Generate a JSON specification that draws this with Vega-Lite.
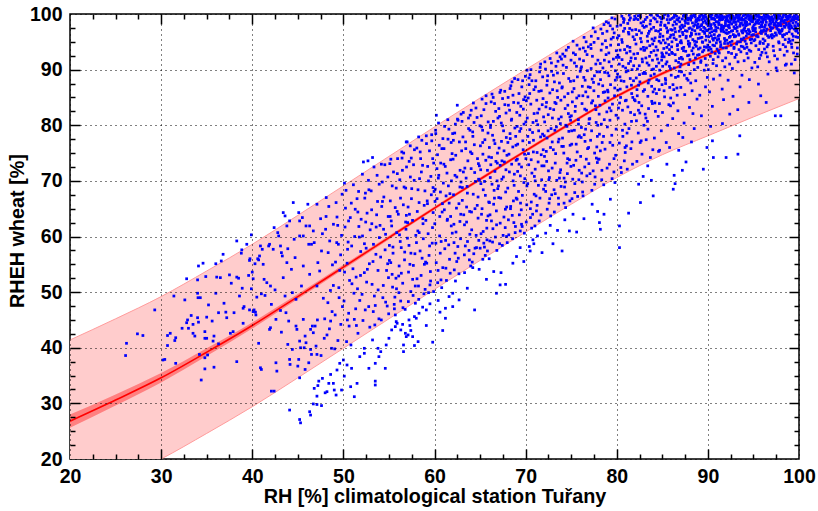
{
"$schema":"https://vega.github.io/schema/vega-lite/v6.json",
"width":729,"height":445,
"autosize":"none",
"padding":{"left":70,"top":14,"right":19,"bottom":52},
"background":"#ffffff",
"config":{"view":{"stroke":"#000000","strokeWidth":1.5},"font":"Liberation Sans"},
"datasets":{
"fit":[
{"x":20,"fit":26.8,"ciLo":25.6,"ciHi":28.0,"piLo":12.2,"piHi":41.4},
{"x":25,"fit":30.6,"ciLo":29.6,"ciHi":31.6,"piLo":16.0,"piHi":45.2},
{"x":30,"fit":34.6,"ciLo":33.75,"ciHi":35.45,"piLo":20.0,"piHi":49.2},
{"x":35,"fit":39.2,"ciLo":38.5,"ciHi":39.9,"piLo":24.6,"piHi":53.8},
{"x":40,"fit":44.0,"ciLo":43.45,"ciHi":44.55,"piLo":29.4,"piHi":58.6},
{"x":45,"fit":49.2,"ciLo":48.75,"ciHi":49.65,"piLo":34.6,"piHi":63.8},
{"x":50,"fit":54.5,"ciLo":54.1,"ciHi":54.9,"piLo":39.9,"piHi":69.1},
{"x":55,"fit":59.8,"ciLo":59.45,"ciHi":60.15,"piLo":45.2,"piHi":74.4},
{"x":60,"fit":65.1,"ciLo":64.8,"ciHi":65.4,"piLo":50.5,"piHi":79.7},
{"x":65,"fit":70.3,"ciLo":70.0,"ciHi":70.6,"piLo":55.7,"piHi":84.9},
{"x":70,"fit":75.4,"ciLo":75.1,"ciHi":75.7,"piLo":60.8,"piHi":90.0},
{"x":75,"fit":80.4,"ciLo":80.1,"ciHi":80.7,"piLo":65.8,"piHi":95.0},
{"x":80,"fit":85.2,"ciLo":84.9,"ciHi":85.5,"piLo":70.6,"piHi":99.8},
{"x":85,"fit":89.3,"ciLo":89.0,"ciHi":89.6,"piLo":74.7,"piHi":103.9},
{"x":90,"fit":92.7,"ciLo":92.4,"ciHi":93.0,"piLo":78.1,"piHi":107.3},
{"x":95,"fit":96.1,"ciLo":95.75,"ciHi":96.45,"piLo":81.5,"piHi":110.7},
{"x":100,"fit":99.4,"ciLo":99.0,"ciHi":99.8,"piLo":84.8,"piHi":114.0}
],
"pts":[
{"x":26.1,"y":38.6},{"x":26.2,"y":40.8},{"x":27.4,"y":42.5},{"x":28.0,"y":42.2},{"x":29.3,"y":46.8},{"x":30.2,"y":37.8},{"x":30.4,"y":37.9},{"x":30.7,"y":42.2},{"x":31.0,"y":42.6},{"x":30.7,"y":40.4},{"x":31.4,"y":49.3},{"x":31.5,"y":41.3},{"x":31.6,"y":41.8},{"x":31.6,"y":37.2},{"x":32.3,"y":43.5},{"x":32.6,"y":48.6},{"x":32.8,"y":52.4},{"x":32.9,"y":45.0},{"x":32.8,"y":44.5},{"x":33.0,"y":43.5},{"x":33.3,"y":45.8},{"x":33.5,"y":42.6},{"x":33.5,"y":44.2},{"x":33.7,"y":42.1},{"x":34.0,"y":52.2},{"x":34.0,"y":49.8},{"x":34.05,"y":49.0},{"x":34.0,"y":45.4},{"x":34.1,"y":54.7},{"x":34.1,"y":44.6},{"x":34.3,"y":49.0},{"x":34.4,"y":34.2},{"x":34.6,"y":55.2},{"x":34.2,"y":38.8},{"x":34.8,"y":38.2},{"x":34.8,"y":36.2},{"x":34.8,"y":42.9},{"x":34.8,"y":41.7},{"x":34.9,"y":52.8},{"x":35.0,"y":45.5},{"x":35.2,"y":47.7},{"x":35.0,"y":41.7},{"x":35.1,"y":38.7},{"x":35.6,"y":44.8},{"x":35.8,"y":42.1},{"x":35.7,"y":41.2},{"x":35.8,"y":36.5},{"x":36.0,"y":55.1},{"x":36.0,"y":49.8},{"x":36.1,"y":52.7},{"x":36.3,"y":46.3},{"x":36.3,"y":40.7},{"x":36.5,"y":52.6},{"x":36.6,"y":55.6},{"x":36.8,"y":56.8},{"x":36.9,"y":48.0},{"x":37.1,"y":46.4},{"x":37.2,"y":45.4},{"x":37.5,"y":53.1},{"x":37.6,"y":42.6},{"x":37.7,"y":51.6},{"x":37.9,"y":42.9},{"x":38.0,"y":46.3},{"x":38.3,"y":59.2},{"x":38.3,"y":52.7},{"x":38.3,"y":37.5},{"x":38.5,"y":52.5},{"x":38.6,"y":49.3},{"x":38.8,"y":57.0},{"x":38.85,"y":57.6},{"x":38.9,"y":50.7},{"x":39.0,"y":47.1},{"x":39.0,"y":44.4},{"x":39.1,"y":47.4},{"x":39.4,"y":58.6},{"x":39.6,"y":53.0},{"x":39.7,"y":55.7},{"x":39.75,"y":56.0},{"x":39.7,"y":46.8},{"x":39.9,"y":60.3},{"x":39.9,"y":50.6},{"x":40.0,"y":53.6},{"x":40.1,"y":52.4},{"x":40.1,"y":46.5},{"x":40.2,"y":46.8},{"x":40.3,"y":55.1},{"x":40.35,"y":46.4},{"x":40.4,"y":45.9},{"x":40.5,"y":49.1},{"x":40.6,"y":56.0},{"x":40.7,"y":55.8},{"x":40.7,"y":40.8},{"x":40.8,"y":56.5},{"x":40.9,"y":58.3},{"x":40.9,"y":36.4},{"x":41.0,"y":36.1},{"x":41.0,"y":49.7},{"x":41.1,"y":57.7},{"x":41.2,"y":55.0},{"x":41.3,"y":52.3},{"x":41.4,"y":49.4},{"x":41.6,"y":51.7},{"x":41.8,"y":58.3},{"x":41.9,"y":58.6},{"x":41.9,"y":43.3},{"x":42.0,"y":43.6},{"x":42.0,"y":51.1},{"x":42.1,"y":47.8},{"x":42.1,"y":32.2},{"x":42.3,"y":57.7},{"x":42.4,"y":61.6},{"x":42.4,"y":32.2},{"x":42.5,"y":50.4},{"x":42.6,"y":45.1},{"x":42.6,"y":37.3},{"x":42.7,"y":35.8},{"x":42.8,"y":60.7},{"x":42.9,"y":60.1},{"x":43.1,"y":58.3},{"x":43.1,"y":46.7},{"x":43.2,"y":42.8},{"x":43.2,"y":57.1},{"x":43.3,"y":56.5},{"x":43.4,"y":64.3},{"x":43.4,"y":52.6},{"x":43.6,"y":63.7},{"x":43.6,"y":49.3},{"x":43.7,"y":46.3},{"x":43.8,"y":61.9},{"x":43.8,"y":55.3},{"x":43.9,"y":57.8},{"x":43.9,"y":40.6},{"x":44.0,"y":44.8},{"x":44.1,"y":62.8},{"x":44.1,"y":37.9},{"x":44.15,"y":37.0},{"x":44.3,"y":54.1},{"x":44.4,"y":49.9},{"x":44.4,"y":39.7},{"x":44.5,"y":66.1},{"x":44.6,"y":59.5},{"x":44.7,"y":56.2},{"x":44.8,"y":48.7},{"x":44.8,"y":43.9},{"x":44.9,"y":43.3},{"x":45.0,"y":36.7},{"x":45.1,"y":37.9},{"x":45.1,"y":64.3},{"x":45.2,"y":60.1},{"x":45.2,"y":62.8},{"x":45.2,"y":41.2},{"x":45.2,"y":34.6},{"x":45.3,"y":40.0},{"x":45.4,"y":51.1},{"x":45.5,"y":63.4},{"x":45.6,"y":60.1},{"x":45.6,"y":54.7},{"x":45.6,"y":45.1},{"x":45.7,"y":40.0},{"x":45.8,"y":36.1},{"x":45.8,"y":42.1},{"x":45.9,"y":61.9},{"x":45.9,"y":40.9},{"x":46.1,"y":65.8},{"x":46.2,"y":58.6},{"x":46.2,"y":37.3},{"x":46.3,"y":61.9},{"x":46.3,"y":53.2},{"x":46.4,"y":43.3},{"x":46.4,"y":39.7},{"x":46.5,"y":58.6},{"x":46.5,"y":38.8},{"x":46.6,"y":43.9},{"x":46.7,"y":61.0},{"x":46.7,"y":42.7},{"x":46.8,"y":58.9},{"x":46.9,"y":43.9},{"x":47.0,"y":40.3},{"x":47.1,"y":51.1},{"x":47.15,"y":45.0},{"x":47.1,"y":65.8},{"x":47.1,"y":38.8},{"x":47.2,"y":55.3},{"x":47.3,"y":34.0},
{"x":45.2,"y":27.1},{"x":45.3,"y":26.5},{"x":46.3,"y":28.5},{"x":46.4,"y":27.9},{"x":44.1,"y":28.8},{"x":46.7,"y":29.9},{"x":47.1,"y":29.8},{"x":47.6,"y":29.6},{"x":47.1,"y":31.3},{"x":46.8,"y":32.7},{"x":47.2,"y":33.2},{"x":47.7,"y":34.5},{"x":48.0,"y":31.9},{"x":48.2,"y":32.1},{"x":48.4,"y":33.6},{"x":48.6,"y":35.2},{"x":48.9,"y":33.6},{"x":49.0,"y":32.4},{"x":49.2,"y":31.5},{"x":49.3,"y":36.0},{"x":49.6,"y":37.2},{"x":49.8,"y":32.4},{"x":50.0,"y":37.8},{"x":50.1,"y":34.9},{"x":50.4,"y":36.9},{"x":50.8,"y":33.0},{"x":51.2,"y":31.2},{"x":50.9,"y":36.3},{"x":51.5,"y":33.6},{"x":52.3,"y":39.9},{"x":52.3,"y":39.0},{"x":52.8,"y":36.3},{"x":53.2,"y":41.4},{"x":53.5,"y":37.2},{"x":53.5,"y":34.0},{"x":53.5,"y":33.3},{"x":53.8,"y":39.9},{"x":53.9,"y":38.4},{"x":54.1,"y":39.3},{"x":54.6,"y":36.3},{"x":54.7,"y":40.5},{"x":55.0,"y":41.7},{"x":55.3,"y":43.2},{"x":55.7,"y":43.8},{"x":55.9,"y":44.4},{"x":56.3,"y":43.2},{"x":56.5,"y":44.2},{"x":56.6,"y":40.5},{"x":56.6,"y":39.3},{"x":56.9,"y":42.0},{"x":57.1,"y":42.3},{"x":57.3,"y":44.0},{"x":57.4,"y":43.1},{"x":57.6,"y":42.0},{"x":57.8,"y":40.4},{"x":58.0,"y":45.3},
{"x":68.6,"y":55.2},{"x":69.0,"y":56.4},{"x":67.2,"y":51.3},{"x":66.8,"y":49.8},{"x":66.0,"y":56.0},{"x":64.4,"y":46.8},{"x":62.7,"y":48.6},{"x":62.0,"y":47.4},{"x":61.2,"y":47.1},{"x":62.3,"y":52.0},{"x":63.3,"y":53.5},{"x":64.2,"y":54.4},{"x":64.9,"y":54.1},{"x":65.3,"y":55.9},{"x":67.3,"y":53.5},{"x":67.8,"y":51.4},{"x":59.1,"y":46.8},{"x":57.8,"y":45.6},{"x":57.2,"y":45.0},{"x":55.8,"y":44.7},{"x":56.8,"y":42.6},{"x":58.2,"y":41.1},{"x":70.8,"y":59.4},{"x":70.4,"y":58.2},{"x":59.8,"y":41.0},{"x":60.4,"y":48.5},{"x":60.9,"y":43.1},{"x":61.6,"y":49.2},{"x":63.6,"y":50.7},{"x":65.7,"y":52.3},{"x":66.5,"y":53.7},{"x":69.4,"y":58.0},{"x":69.8,"y":55.5},
{"x":84.0,"y":67.3},{"x":82.6,"y":66.1},{"x":81.3,"y":64.2},{"x":80.3,"y":61.9},{"x":80.3,"y":58.0},{"x":79.3,"y":66.7},{"x":78.6,"y":64.0},{"x":77.3,"y":65.8},{"x":75.2,"y":64.0},{"x":74.8,"y":61.0},{"x":73.0,"y":58.7},{"x":72.7,"y":62.0},{"x":70.9,"y":58.7},{"x":70.5,"y":57.4},{"x":71.8,"y":57.1},{"x":74.0,"y":57.4},{"x":78.2,"y":61.3},{"x":78.1,"y":62.5},{"x":82.4,"y":69.4},{"x":83.4,"y":72.7},{"x":85.5,"y":73.0},{"x":86.2,"y":68.5},{"x":86.4,"y":69.5},{"x":87.2,"y":71.9},{"x":89.5,"y":72.1},{"x":89.9,"y":76.0},{"x":90.5,"y":77.2},{"x":92.0,"y":74.2},{"x":93.3,"y":74.8},{"x":93.5,"y":78.1},{"x":97.4,"y":81.7},{"x":98.0,"y":81.7},{"x":96.4,"y":84.1},{"x":94.5,"y":84.1},{"x":95.8,"y":85.3},{"x":90.6,"y":74.2},{"x":87.6,"y":73.4},{"x":86.8,"y":75.5},{"x":85.8,"y":76.0},{"x":84.7,"y":75.5},{"x":79.8,"y":69.7},{"x":71.3,"y":60.1},{"x":72.2,"y":60.6},{"x":73.5,"y":61.1},{"x":74.3,"y":63.0},{"x":75.6,"y":60.8},{"x":76.4,"y":63.2},{"x":77.9,"y":64.5},{"x":82.9,"y":70.8},{"x":83.8,"y":70.1},{"x":86.3,"y":71.0},{"x":88.5,"y":79.4},{"x":88.2,"y":77.0},{"x":90.3,"y":79.8},{"x":91.6,"y":80.3},{"x":92.4,"y":82.0},
{"x":47.5,"y":63.2},{"x":47.8,"y":48.9},{"x":47.6,"y":57.4},{"x":47.9,"y":41.7},{"x":47.4,"y":53.8},{"x":47.7,"y":60.5},{"x":47.95,"y":45.2},{"x":47.55,"y":38.6},
{"x":48.1,"y":63.6},{"x":48.3,"y":48.1},{"x":48.5,"y":59.2},{"x":48.2,"y":42.3},{"x":48.8,"y":54.9},{"x":48.6,"y":44.8},{"x":48.4,"y":65.4},{"x":48.9,"y":51.2},{"x":48.05,"y":61.3},{"x":48.7,"y":39.9},
{"x":49.2,"y":66.1},{"x":49.5,"y":50.8},{"x":49.1,"y":45.9},{"x":49.8,"y":60.2},{"x":49.4,"y":41.3},{"x":49.7,"y":56.7},{"x":49.3,"y":63.5},{"x":49.9,"y":47.4},{"x":49.6,"y":53.9},{"x":49.05,"y":39.8},{"x":49.45,"y":58.6},
{"x":50.18,"y":61.7},{"x":50.63,"y":43.9},{"x":50.41,"y":55.2},{"x":50.87,"y":66.0},{"x":50.07,"y":48.4},{"x":50.52,"y":59.0},{"x":50.29,"y":68.3},{"x":50.94,"y":51.5},{"x":50.35,"y":41.1},{"x":50.76,"y":63.4},{"x":50.13,"y":53.6},{"x":50.58,"y":46.2},{"x":50.46,"y":57.7},{"x":50.83,"y":40.5},
{"x":51.1,"y":69.3},{"x":51.4,"y":52.7},{"x":51.2,"y":45.1},{"x":51.7,"y":61.8},{"x":51.9,"y":57.3},{"x":51.3,"y":64.9},{"x":51.6,"y":42.6},{"x":51.8,"y":48.5},{"x":51.5,"y":66.8},{"x":51.05,"y":54.2},{"x":51.75,"y":59.9},{"x":51.35,"y":47.0},{"x":51.95,"y":63.1},{"x":51.55,"y":50.6},{"x":51.8,"y":38.4},
{"x":52.2,"y":73.4},{"x":52.7,"y":73.6},{"x":52.1,"y":60.1},{"x":52.4,"y":46.8},{"x":52.8,"y":68.4},{"x":52.3,"y":53.5},{"x":52.6,"y":64.2},{"x":52.9,"y":43.7},{"x":52.5,"y":57.9},{"x":52.05,"y":49.6},{"x":52.75,"y":70.1},{"x":52.45,"y":62.6},{"x":52.15,"y":44.9},{"x":52.85,"y":55.1},{"x":52.55,"y":51.8},{"x":52.35,"y":66.9},
{"x":53.2,"y":74.2},{"x":53.1,"y":64.8},{"x":53.4,"y":49.3},{"x":53.7,"y":71.0},{"x":53.3,"y":58.6},{"x":53.9,"y":45.2},{"x":53.6,"y":61.7},{"x":53.8,"y":53.9},{"x":53.05,"y":68.2},{"x":53.5,"y":47.6},{"x":53.25,"y":55.5},{"x":53.75,"y":66.3},{"x":53.45,"y":44.1},{"x":53.95,"y":59.8},{"x":53.15,"y":51.4},{"x":53.65,"y":63.9},
{"x":54.27,"y":69.8},{"x":54.81,"y":47.5},{"x":54.09,"y":56.3},{"x":54.55,"y":72.9},{"x":54.38,"y":51.2},{"x":54.92,"y":63.6},{"x":54.16,"y":45.0},{"x":54.63,"y":60.4},{"x":54.44,"y":67.1},{"x":54.74,"y":53.9},{"x":54.02,"y":62.0},{"x":54.88,"y":70.7},{"x":54.33,"y":49.0},{"x":54.58,"y":57.6},{"x":54.21,"y":65.4},{"x":54.97,"y":46.1},
{"x":55.1,"y":73.1},{"x":55.3,"y":61.9},{"x":55.6,"y":47.0},{"x":55.2,"y":55.3},{"x":55.8,"y":68.7},{"x":55.4,"y":50.9},{"x":55.9,"y":64.5},{"x":55.05,"y":58.4},{"x":55.7,"y":45.9},{"x":55.5,"y":71.6},{"x":55.35,"y":53.2},{"x":55.85,"y":60.7},{"x":55.15,"y":66.4},{"x":55.65,"y":49.1},{"x":55.45,"y":57.0},{"x":55.95,"y":74.0},{"x":55.25,"y":62.8},
{"x":56.44,"y":74.1},{"x":56.12,"y":54.7},{"x":56.87,"y":61.3},{"x":56.29,"y":48.4},{"x":56.66,"y":68.9},{"x":56.03,"y":64.0},{"x":56.51,"y":51.6},{"x":56.93,"y":72.5},{"x":56.35,"y":58.0},{"x":56.78,"y":46.9},{"x":56.19,"y":70.2},{"x":56.58,"y":65.7},{"x":56.07,"y":52.9},{"x":56.71,"y":55.8},{"x":56.41,"y":75.2},{"x":56.83,"y":62.6},{"x":56.24,"y":59.1},{"x":56.9,"y":77.0},
{"x":57.0,"y":77.0},{"x":57.1,"y":65.3},{"x":57.4,"y":50.1},{"x":57.7,"y":72.9},{"x":57.2,"y":58.4},{"x":57.9,"y":48.0},{"x":57.5,"y":68.6},{"x":57.3,"y":55.0},{"x":57.8,"y":75.6},{"x":57.6,"y":52.3},{"x":57.05,"y":62.5},{"x":57.95,"y":60.2},{"x":57.35,"y":70.7},{"x":57.65,"y":49.4},{"x":57.25,"y":64.0},{"x":57.85,"y":56.9},{"x":57.45,"y":74.1},{"x":57.15,"y":53.6},
{"x":58.06,"y":75.9},{"x":58.53,"y":53.0},{"x":58.31,"y":66.1},{"x":58.84,"y":49.7},{"x":58.17,"y":61.0},{"x":58.69,"y":72.8},{"x":58.42,"y":57.4},{"x":58.95,"y":68.2},{"x":58.24,"y":51.1},{"x":58.61,"y":77.3},{"x":58.11,"y":64.5},{"x":58.77,"y":59.6},{"x":58.36,"y":70.4},{"x":58.89,"y":55.0},{"x":58.48,"y":74.0},{"x":58.02,"y":58.9},{"x":58.72,"y":63.2},{"x":58.27,"y":48.7},{"x":58.3,"y":46.2},{"x":58.7,"y":47.3},
{"x":59.1,"y":78.1},{"x":59.2,"y":66.4},{"x":59.5,"y":51.3},{"x":59.8,"y":74.0},{"x":59.3,"y":60.5},{"x":59.9,"y":50.1},{"x":59.6,"y":70.8},{"x":59.4,"y":56.6},{"x":59.7,"y":77.2},{"x":59.05,"y":62.9},{"x":59.55,"y":53.7},{"x":59.95,"y":68.1},{"x":59.25,"y":72.6},{"x":59.75,"y":58.8},{"x":59.35,"y":49.9},{"x":59.85,"y":64.3},{"x":59.45,"y":75.4},{"x":59.15,"y":55.2},{"x":59.65,"y":67.5},{"x":59.1,"y":44.0},{"x":59.5,"y":47.9},
{"x":60.2,"y":81.8},{"x":60.33,"y":74.7},{"x":60.71,"y":52.2},{"x":60.08,"y":68.5},{"x":60.56,"y":60.1},{"x":60.92,"y":77.6},{"x":60.19,"y":55.3},{"x":60.47,"y":71.0},{"x":60.84,"y":64.4},{"x":60.12,"y":79.1},{"x":60.63,"y":57.0},{"x":60.28,"y":66.8},{"x":60.79,"y":50.8},{"x":60.03,"y":62.3},{"x":60.52,"y":76.4},{"x":60.97,"y":69.6},{"x":60.39,"y":53.9},{"x":60.68,"y":73.2},{"x":60.15,"y":58.8},{"x":60.87,"y":65.9},{"x":60.44,"y":80.4},{"x":60.6,"y":46.4},
{"x":61.58,"y":79.3},{"x":61.13,"y":57.8},{"x":61.86,"y":70.0},{"x":61.39,"y":62.9},{"x":61.04,"y":75.8},{"x":61.72,"y":53.4},{"x":61.27,"y":67.3},{"x":61.95,"y":60.6},{"x":61.46,"y":81.0},{"x":61.18,"y":72.6},{"x":61.65,"y":55.9},{"x":61.83,"y":76.9},{"x":61.08,"y":64.8},{"x":61.52,"y":69.1},{"x":61.31,"y":52.1},{"x":61.77,"y":73.8},{"x":61.22,"y":59.3},{"x":61.61,"y":66.0},{"x":61.99,"y":78.5},{"x":61.42,"y":63.1},{"x":61.2,"y":45.3},
{"x":62.5,"y":83.6},{"x":62.04,"y":73.9},{"x":62.61,"y":56.1},{"x":62.29,"y":80.2},{"x":62.88,"y":64.0},{"x":62.45,"y":70.7},{"x":62.17,"y":54.0},{"x":62.73,"y":77.0},{"x":62.36,"y":60.8},{"x":62.92,"y":82.0},{"x":62.09,"y":67.5},{"x":62.56,"y":58.2},{"x":62.81,"y":71.9},{"x":62.22,"y":78.6},{"x":62.68,"y":53.3},{"x":62.41,"y":65.1},{"x":62.98,"y":75.4},{"x":62.13,"y":62.2},{"x":62.52,"y":81.1},{"x":62.79,"y":68.9},{"x":62.26,"y":57.0},{"x":62.0,"y":49.8},
{"x":63.12,"y":77.9},{"x":63.83,"y":55.8},{"x":63.47,"y":70.5},{"x":63.29,"y":62.1},{"x":63.91,"y":81.8},{"x":63.05,"y":66.5},{"x":63.66,"y":73.6},{"x":63.38,"y":58.3},{"x":63.74,"y":79.4},{"x":63.21,"y":63.9},{"x":63.58,"y":69.0},{"x":63.97,"y":54.7},{"x":63.43,"y":75.8},{"x":63.16,"y":82.3},{"x":63.88,"y":60.4},{"x":63.52,"y":65.3},{"x":63.33,"y":72.3},{"x":63.79,"y":57.5},{"x":63.02,"y":80.7},{"x":63.61,"y":67.8},
{"x":64.55,"y":83.1},{"x":64.08,"y":61.2},{"x":64.72,"y":74.0},{"x":64.31,"y":56.9},{"x":64.93,"y":70.1},{"x":64.19,"y":78.8},{"x":64.44,"y":65.0},{"x":64.86,"y":59.3},{"x":64.02,"y":72.2},{"x":64.67,"y":81.4},{"x":64.25,"y":67.6},{"x":64.78,"y":63.3},{"x":64.37,"y":76.5},{"x":64.14,"y":55.4},{"x":64.99,"y":79.9},{"x":64.49,"y":69.9},{"x":64.61,"y":58.0},{"x":64.27,"y":84.0},{"x":64.82,"y":73.1},{"x":64.06,"y":64.4},{"x":64.41,"y":71.5},
{"x":65.22,"y":84.7},{"x":65.71,"y":62.9},{"x":65.04,"y":76.3},{"x":65.48,"y":58.1},{"x":65.89,"y":80.6},{"x":65.35,"y":68.4},{"x":65.63,"y":73.7},{"x":65.11,"y":60.5},{"x":65.95,"y":66.2},{"x":65.28,"y":79.1},{"x":65.57,"y":56.6},{"x":65.81,"y":71.9},{"x":65.16,"y":64.0},{"x":65.42,"y":82.8},{"x":65.76,"y":59.4},{"x":65.09,"y":69.5},{"x":65.53,"y":77.4},{"x":65.87,"y":63.7},{"x":65.31,"y":74.8},{"x":65.66,"y":85.3},{"x":65.01,"y":57.9},
{"x":66.37,"y":78.2},{"x":66.84,"y":57.5},{"x":66.12,"y":70.6},{"x":66.59,"y":83.9},{"x":66.25,"y":62.8},{"x":66.91,"y":75.0},{"x":66.03,"y":66.1},{"x":66.68,"y":59.9},{"x":66.46,"y":80.7},{"x":66.18,"y":72.9},{"x":66.79,"y":64.6},{"x":66.31,"y":85.6},{"x":66.54,"y":68.3},{"x":66.96,"y":81.3},{"x":66.07,"y":59.2},{"x":66.63,"y":76.7},{"x":66.41,"y":61.4},{"x":66.87,"y":70.0},{"x":66.22,"y":84.2},{"x":66.74,"y":73.5},{"x":66.49,"y":65.8},{"x":66.14,"y":79.6},
{"x":67.06,"y":83.0},{"x":67.53,"y":60.2},{"x":67.88,"y":77.8},{"x":67.27,"y":66.9},{"x":67.71,"y":86.1},{"x":67.39,"y":70.3},{"x":67.14,"y":58.7},{"x":67.95,"y":74.6},{"x":67.62,"y":63.5},{"x":67.33,"y":80.4},{"x":67.81,"y":68.0},{"x":67.09,"y":75.9},{"x":67.47,"y":84.8},{"x":67.76,"y":61.6},{"x":67.21,"y":72.8},{"x":67.58,"y":79.0},{"x":67.92,"y":65.3},{"x":67.18,"y":85.9},{"x":67.44,"y":58.4},{"x":67.67,"y":73.4},{"x":67.02,"y":69.1},{"x":67.85,"y":82.2},
{"x":68.43,"y":80.9},{"x":68.11,"y":63.0},{"x":68.76,"y":71.2},{"x":68.29,"y":86.6},{"x":68.94,"y":76.4},{"x":68.57,"y":59.6},{"x":68.04,"y":68.7},{"x":68.69,"y":84.1},{"x":68.36,"y":65.4},{"x":68.82,"y":79.5},{"x":68.17,"y":74.8},{"x":68.51,"y":87.8},{"x":68.88,"y":61.8},{"x":68.24,"y":82.7},{"x":68.63,"y":70.0},{"x":68.97,"y":66.9},{"x":68.31,"y":77.6},{"x":68.71,"y":62.5},{"x":68.08,"y":85.0},{"x":68.47,"y":73.0},{"x":68.79,"y":88.4},{"x":68.15,"y":60.3},{"x":68.59,"y":76.1},
{"x":69.27,"y":85.7},{"x":69.64,"y":67.4},{"x":69.09,"y":73.9},{"x":69.82,"y":80.2},{"x":69.41,"y":61.0},{"x":69.16,"y":88.2},{"x":69.73,"y":75.6},{"x":69.52,"y":64.8},{"x":69.03,"y":82.3},{"x":69.91,"y":70.4},{"x":69.35,"y":78.9},{"x":69.58,"y":86.9},{"x":69.22,"y":68.1},{"x":69.86,"y":60.6},{"x":69.47,"y":83.4},{"x":69.12,"y":71.7},{"x":69.69,"y":77.2},{"x":69.97,"y":88.8},{"x":69.31,"y":63.9},{"x":69.78,"y":84.6},{"x":69.55,"y":72.5},{"x":69.07,"y":79.8},{"x":69.44,"y":66.0},
{"x":70.18,"y":81.3},{"x":70.62,"y":66.2},{"x":70.91,"y":86.4},{"x":70.34,"y":72.9},{"x":70.07,"y":62.6},{"x":70.76,"y":78.7},{"x":70.49,"y":89.1},{"x":70.23,"y":69.5},{"x":70.85,"y":75.2},{"x":70.57,"y":83.8},{"x":70.12,"y":65.7},{"x":70.69,"y":88.0},{"x":70.41,"y":76.9},{"x":70.96,"y":70.8},{"x":70.28,"y":84.9},{"x":70.53,"y":63.4},{"x":70.81,"y":80.5},{"x":70.03,"y":74.0},{"x":70.66,"y":61.5},{"x":70.38,"y":87.3},{"x":70.94,"y":67.6},{"x":70.15,"y":89.9},{"x":70.46,"y":79.2},
{"x":71.22,"y":84.5},{"x":71.68,"y":63.9},{"x":71.05,"y":72.1},{"x":71.87,"y":88.7},{"x":71.43,"y":79.0},{"x":71.14,"y":67.3},{"x":71.59,"y":90.4},{"x":71.93,"y":75.6},{"x":71.31,"y":82.2},{"x":71.76,"y":70.2},{"x":71.08,"y":86.9},{"x":71.49,"y":62.8},{"x":71.64,"y":77.9},{"x":71.26,"y":65.6},{"x":71.82,"y":83.7},{"x":71.37,"y":73.4},{"x":71.97,"y":68.5},{"x":71.53,"y":89.6},{"x":71.18,"y":80.8},{"x":71.71,"y":74.7},{"x":71.02,"y":61.9},{"x":71.45,"y":86.1},
{"x":72.09,"y":80.6},{"x":72.57,"y":66.0},{"x":72.83,"y":91.2},{"x":72.31,"y":73.5},{"x":72.66,"y":85.8},{"x":72.14,"y":69.2},{"x":72.92,"y":77.0},{"x":72.42,"y":88.9},{"x":72.75,"y":63.7},{"x":72.23,"y":83.3},{"x":72.51,"y":71.8},{"x":72.96,"y":86.4},{"x":72.37,"y":64.9},{"x":72.04,"y":78.1},{"x":72.69,"y":92.0},{"x":72.27,"y":75.3},{"x":72.86,"y":67.5},{"x":72.48,"y":81.9},{"x":72.18,"y":90.1},{"x":72.61,"y":70.6},{"x":72.79,"y":79.4},{"x":72.33,"y":87.2},{"x":72.02,"y":72.7},
{"x":73.46,"y":86.2},{"x":73.12,"y":68.4},{"x":73.78,"y":92.3},{"x":73.29,"y":74.9},{"x":73.91,"y":81.5},{"x":73.05,"y":89.0},{"x":73.62,"y":65.8},{"x":73.38,"y":79.7},{"x":73.84,"y":72.0},{"x":73.21,"y":84.1},{"x":73.55,"y":91.5},{"x":73.97,"y":76.2},{"x":73.15,"y":64.4},{"x":73.71,"y":87.6},{"x":73.42,"y":70.1},{"x":73.08,"y":82.8},{"x":73.66,"y":77.5},{"x":73.33,"y":90.6},{"x":73.89,"y":69.0},{"x":73.51,"y":85.0},{"x":73.25,"y":73.2},{"x":73.81,"y":80.3},{"x":73.6,"y":66.9},
{"x":74.11,"y":90.8},{"x":74.58,"y":71.3},{"x":74.34,"y":83.0},{"x":74.86,"y":66.4},{"x":74.05,"y":77.7},{"x":74.73,"y":88.4},{"x":74.27,"y":68.9},{"x":74.93,"y":80.9},{"x":74.46,"y":93.5},{"x":74.19,"y":75.0},{"x":74.65,"y":85.7},{"x":74.39,"y":65.2},{"x":74.81,"y":73.8},{"x":74.02,"y":86.9},{"x":74.53,"y":79.8},{"x":74.98,"y":91.7},{"x":74.22,"y":70.5},{"x":74.69,"y":82.1},{"x":74.44,"y":67.6},{"x":74.88,"y":76.4},{"x":74.15,"y":89.3},{"x":74.61,"y":74.0},{"x":74.31,"y":92.4},
{"x":75.28,"y":88.0},{"x":75.71,"y":67.2},{"x":75.06,"y":76.6},{"x":75.92,"y":91.9},{"x":75.43,"y":82.5},{"x":75.17,"y":70.3},{"x":75.64,"y":94.4},{"x":75.35,"y":79.1},{"x":75.85,"y":85.3},{"x":75.09,"y":66.8},{"x":75.52,"y":73.7},{"x":75.99,"y":89.7},{"x":75.24,"y":93.0},{"x":75.77,"y":77.9},{"x":75.4,"y":69.5},{"x":75.13,"y":84.2},{"x":75.58,"y":90.6},{"x":75.88,"y":71.9},{"x":75.31,"y":86.6},{"x":75.66,"y":75.2},{"x":75.02,"y":81.7},{"x":75.47,"y":92.7},{"x":75.8,"y":80.2},
{"x":76.07,"y":90.2},{"x":76.49,"y":72.5},{"x":76.83,"y":85.1},{"x":76.26,"y":68.0},{"x":76.64,"y":95.0},{"x":76.12,"y":79.6},{"x":76.91,"y":76.0},{"x":76.38,"y":88.6},{"x":76.72,"y":70.9},{"x":76.19,"y":83.9},{"x":76.55,"y":93.3},{"x":76.97,"y":81.1},{"x":76.3,"y":67.3},{"x":76.78,"y":89.8},{"x":76.04,"y":74.4},{"x":76.6,"y":86.0},{"x":76.43,"y":78.3},{"x":76.88,"y":94.1},{"x":76.15,"y":71.4},{"x":76.68,"y":82.7},{"x":76.35,"y":91.6},{"x":76.94,"y":73.1},{"x":76.22,"y":87.0},{"x":76.52,"y":77.1},
{"x":77.33,"y":92.4},{"x":77.76,"y":74.1},{"x":77.09,"y":86.8},{"x":77.58,"y":69.4},{"x":77.92,"y":80.0},{"x":77.21,"y":96.0},{"x":77.66,"y":83.5},{"x":77.41,"y":71.8},{"x":77.84,"y":89.6},{"x":77.13,"y":77.3},{"x":77.51,"y":94.9},{"x":77.98,"y":85.2},{"x":77.27,"y":68.3},{"x":77.7,"y":91.0},{"x":77.04,"y":81.2},{"x":77.45,"y":87.7},{"x":77.81,"y":76.1},{"x":77.18,"y":93.8},{"x":77.62,"y":70.7},{"x":77.36,"y":84.4},{"x":77.95,"y":95.6},{"x":77.24,"y":79.0},{"x":77.55,"y":88.9},{"x":77.87,"y":73.3},
{"x":78.02,"y":87.4},{"x":78.44,"y":96.5},{"x":78.71,"y":75.7},{"x":78.19,"y":91.1},{"x":78.63,"y":81.0},{"x":78.35,"y":70.2},{"x":78.88,"y":94.0},{"x":78.1,"y":78.4},{"x":78.52,"y":85.9},{"x":78.94,"y":72.3},{"x":78.26,"y":97.3},{"x":78.67,"y":89.5},{"x":78.4,"y":76.9},{"x":78.83,"y":92.7},{"x":78.15,"y":83.6},{"x":78.57,"y":69.3},{"x":78.99,"y":86.3},{"x":78.31,"y":80.2},{"x":78.76,"y":95.2},{"x":78.06,"y":73.9},{"x":78.48,"y":90.3},{"x":78.91,"y":82.4},{"x":78.22,"y":88.2},{"x":78.6,"y":98.1},
{"x":79.13,"y":93.0},{"x":79.56,"y":76.4},{"x":79.84,"y":88.1},{"x":79.28,"y":97.9},{"x":79.69,"y":71.6},{"x":79.05,"y":84.9},{"x":79.42,"y":90.6},{"x":79.93,"y":79.3},{"x":79.2,"y":73.0},{"x":79.61,"y":95.8},{"x":79.37,"y":82.6},{"x":79.78,"y":86.7},{"x":79.09,"y":98.4},{"x":79.49,"y":70.4},{"x":79.97,"y":92.2},{"x":79.25,"y":80.9},{"x":79.72,"y":96.6},{"x":79.32,"y":87.3},{"x":79.88,"y":74.6},{"x":79.16,"y":91.4},{"x":79.53,"y":83.8},{"x":79.81,"y":99.1},{"x":79.45,"y":78.2},{"x":79.01,"y":89.4},
{"x":80.24,"y":96.1},{"x":80.67,"y":78.0},{"x":80.09,"y":89.2},{"x":80.45,"y":72.4},{"x":80.86,"y":93.6},{"x":80.31,"y":84.0},{"x":80.72,"y":99.2},{"x":80.15,"y":81.3},{"x":80.58,"y":91.8},{"x":80.93,"y":75.1},{"x":80.38,"y":86.5},{"x":80.04,"y":97.8},{"x":80.79,"y":87.9},{"x":80.51,"y":71.5},{"x":80.2,"y":94.5},{"x":80.63,"y":82.7},{"x":80.97,"y":90.3},{"x":80.28,"y":76.8},{"x":80.75,"y":98.5},{"x":80.42,"y":85.0},{"x":80.89,"y":80.2},{"x":80.12,"y":92.6},{"x":80.55,"y":95.4},{"x":80.83,"y":73.6},{"x":80.35,"y":88.7},
{"x":81.17,"y":94.2},{"x":81.62,"y":80.7},{"x":81.39,"y":98.9},{"x":81.84,"y":88.0},{"x":81.06,"y":76.3},{"x":81.51,"y":91.5},{"x":81.93,"y":84.6},{"x":81.28,"y":96.7},{"x":81.73,"y":73.0},{"x":81.11,"y":86.9},{"x":81.46,"y":93.3},{"x":81.97,"y":99.6},{"x":81.34,"y":79.4},{"x":81.68,"y":90.0},{"x":81.22,"y":83.3},{"x":81.79,"y":95.9},{"x":81.55,"y":75.8},{"x":81.03,"y":89.6},{"x":81.88,"y":92.8},{"x":81.42,"y":97.4},{"x":81.64,"y":85.7},{"x":81.15,"y":72.1},{"x":81.3,"y":91.1},{"x":81.95,"y":81.9},{"x":81.5,"y":99.3},
{"x":82.08,"y":97.2},{"x":82.53,"y":82.2},{"x":82.29,"y":92.9},{"x":82.77,"y":74.8},{"x":82.14,"y":88.5},{"x":82.61,"y":99.5},{"x":82.91,"y":86.1},{"x":82.36,"y":78.6},{"x":82.7,"y":95.0},{"x":82.02,"y":84.4},{"x":82.47,"y":90.7},{"x":82.85,"y":97.9},{"x":82.21,"y":73.5},{"x":82.65,"y":93.7},{"x":82.98,"y":80.0},{"x":82.4,"y":87.2},{"x":82.18,"y":96.3},{"x":82.57,"y":76.9},{"x":82.82,"y":91.4},{"x":82.33,"y":99.0},{"x":82.74,"y":83.5},{"x":82.11,"y":94.6},{"x":82.5,"y":89.1},{"x":82.94,"y":98.6},{"x":82.25,"y":85.3},{"x":82.68,"y":77.2},
{"x":83.19,"y":92.1},{"x":83.66,"y":98.2},{"x":83.42,"y":79.3},{"x":83.87,"y":95.5},{"x":83.05,"y":86.4},{"x":83.53,"y":90.8},{"x":83.96,"y":75.6},{"x":83.31,"y":99.4},{"x":83.74,"y":88.9},{"x":83.12,"y":82.0},{"x":83.58,"y":96.9},{"x":83.84,"y":84.3},{"x":83.26,"y":93.9},{"x":83.69,"y":74.2},{"x":83.01,"y":97.6},{"x":83.45,"y":87.6},{"x":83.92,"y":91.7},{"x":83.37,"y":80.7},{"x":83.8,"y":99.8},{"x":83.15,"y":89.3},{"x":83.62,"y":94.3},{"x":83.49,"y":83.0},{"x":83.23,"y":77.4},{"x":83.77,"y":93.1},{"x":83.99,"y":86.0},{"x":83.35,"y":96.0},
{"x":84.27,"y":97.0},{"x":84.71,"y":89.9},{"x":84.08,"y":93.4},{"x":84.55,"y":81.6},{"x":84.92,"y":99.1},{"x":84.36,"y":85.7},{"x":84.84,"y":94.8},{"x":84.13,"y":77.7},{"x":84.62,"y":91.2},{"x":84.43,"y":98.6},{"x":84.97,"y":87.3},{"x":84.21,"y":95.7},{"x":84.68,"y":83.9},{"x":84.03,"y":90.1},{"x":84.5,"y":99.7},{"x":84.89,"y":79.0},{"x":84.32,"y":92.6},{"x":84.77,"y":96.4},{"x":84.16,"y":86.5},{"x":84.59,"y":75.3},{"x":84.95,"y":93.0},{"x":84.39,"y":88.2},{"x":84.81,"y":98.0},{"x":84.24,"y":82.5},{"x":84.65,"y":95.1},{"x":84.06,"y":99.3},{"x":84.47,"y":91.9},
{"x":85.11,"y":95.3},{"x":85.54,"y":99.0},{"x":85.33,"y":88.4},{"x":85.76,"y":92.7},{"x":85.02,"y":82.3},{"x":85.47,"y":97.5},{"x":85.89,"y":90.2},{"x":85.25,"y":85.1},{"x":85.68,"y":98.4},{"x":85.16,"y":93.8},{"x":85.59,"y":80.0},{"x":85.94,"y":96.2},{"x":85.39,"y":91.0},{"x":85.81,"y":86.8},{"x":85.07,"y":99.5},{"x":85.5,"y":94.0},{"x":85.72,"y":83.7},{"x":85.29,"y":97.9},{"x":85.98,"y":89.0},{"x":85.43,"y":76.9},{"x":85.85,"y":95.8},{"x":85.2,"y":92.3},{"x":85.63,"y":99.8},{"x":85.36,"y":87.5},{"x":85.79,"y":93.6},{"x":85.04,"y":90.6},{"x":85.56,"y":96.7},{"x":85.92,"y":84.9},
{"x":86.09,"y":97.1},{"x":86.48,"y":91.6},{"x":86.83,"y":99.3},{"x":86.26,"y":86.4},{"x":86.67,"y":94.5},{"x":86.14,"y":81.2},{"x":86.92,"y":96.0},{"x":86.38,"y":99.8},{"x":86.74,"y":88.8},{"x":86.03,"y":93.1},{"x":86.55,"y":98.2},{"x":86.21,"y":84.0},{"x":86.88,"y":92.0},{"x":86.44,"y":96.8},{"x":86.79,"y":78.5},{"x":86.31,"y":90.3},{"x":86.6,"y":99.0},{"x":86.97,"y":94.9},{"x":86.17,"y":87.3},{"x":86.52,"y":95.4},{"x":86.71,"y":82.6},{"x":86.35,"y":98.6},{"x":86.86,"y":89.7},{"x":86.06,"y":95.0},{"x":86.41,"y":92.7},{"x":86.95,"y":97.7},{"x":86.24,"y":99.4},{"x":86.63,"y":85.4},
{"x":87.14,"y":98.0},{"x":87.57,"y":93.3},{"x":87.31,"y":99.6},{"x":87.82,"y":88.1},{"x":87.05,"y":95.2},{"x":87.46,"y":85.5},{"x":87.93,"y":97.4},{"x":87.22,"y":91.9},{"x":87.68,"y":99.1},{"x":87.39,"y":80.4},{"x":87.86,"y":94.6},{"x":87.11,"y":89.6},{"x":87.53,"y":97.0},{"x":87.77,"y":92.5},{"x":87.27,"y":96.3},{"x":87.98,"y":83.2},{"x":87.64,"y":99.9},{"x":87.35,"y":94.0},{"x":87.03,"y":86.8},{"x":87.49,"y":98.8},{"x":87.89,"y":90.9},{"x":87.18,"y":93.8},{"x":87.72,"y":96.9},{"x":87.42,"y":89.0},{"x":87.95,"y":99.2},{"x":87.25,"y":77.8},{"x":87.6,"y":95.7},{"x":87.08,"y":92.2},{"x":87.84,"y":98.3},
{"x":88.19,"y":96.6},{"x":88.62,"y":99.5},{"x":88.4,"y":92.8},{"x":88.85,"y":97.5},{"x":88.04,"y":89.3},{"x":88.53,"y":95.1},{"x":88.91,"y":99.0},{"x":88.27,"y":86.2},{"x":88.73,"y":94.2},{"x":88.11,"y":98.9},{"x":88.47,"y":91.2},{"x":88.96,"y":93.7},{"x":88.33,"y":99.7},{"x":88.67,"y":88.0},{"x":88.08,"y":96.0},{"x":88.58,"y":98.1},{"x":88.81,"y":84.7},{"x":88.24,"y":93.4},{"x":88.44,"y":97.8},{"x":88.89,"y":90.4},{"x":88.15,"y":99.3},{"x":88.7,"y":96.4},{"x":88.36,"y":82.1},{"x":88.77,"y":98.7},{"x":88.01,"y":94.7},{"x":88.51,"y":90.0},{"x":88.94,"y":95.6},{"x":88.29,"y":97.2},{"x":88.64,"y":92.1},{"x":88.12,"y":87.6},{"x":88.56,"y":99.9},
{"x":89.07,"y":97.7},{"x":89.43,"y":94.9},{"x":89.78,"y":99.4},{"x":89.22,"y":91.3},{"x":89.65,"y":96.5},{"x":89.94,"y":88.6},{"x":89.31,"y":99.0},{"x":89.56,"y":93.5},{"x":89.11,"y":85.4},{"x":89.87,"y":97.1},{"x":89.48,"y":98.5},{"x":89.71,"y":92.0},{"x":89.18,"y":95.7},{"x":89.36,"y":99.8},{"x":89.99,"y":94.4},{"x":89.6,"y":89.9},{"x":89.26,"y":97.9},{"x":89.83,"y":96.0},{"x":89.04,"y":92.7},{"x":89.52,"y":99.2},{"x":89.74,"y":86.9},{"x":89.39,"y":95.0},{"x":89.91,"y":98.2},{"x":89.15,"y":93.9},{"x":89.68,"y":97.4},{"x":89.29,"y":81.7},{"x":89.58,"y":99.6},{"x":89.82,"y":90.8},{"x":89.45,"y":96.9},{"x":89.09,"y":99.5},{"x":89.62,"y":94.1},
{"x":90.13,"y":98.3},{"x":90.52,"y":95.6},{"x":90.84,"y":99.7},{"x":90.27,"y":92.4},{"x":90.69,"y":97.0},{"x":90.05,"y":90.0},{"x":90.41,"y":99.1},{"x":90.93,"y":94.8},{"x":90.21,"y":96.6},{"x":90.62,"y":88.3},{"x":90.77,"y":98.0},{"x":90.34,"y":93.7},{"x":90.99,"y":99.4},{"x":90.09,"y":95.9},{"x":90.56,"y":91.1},{"x":90.87,"y":97.6},{"x":90.46,"y":99.9},{"x":90.18,"y":86.0},{"x":90.73,"y":94.3},{"x":90.3,"y":97.8},{"x":90.65,"y":99.2},{"x":90.95,"y":90.7},{"x":90.38,"y":96.1},{"x":90.8,"y":92.9},{"x":90.02,"y":98.8},{"x":90.49,"y":83.4},{"x":90.6,"y":95.3},{"x":90.25,"y":99.6},{"x":90.9,"y":96.9},{"x":90.43,"y":93.2},{"x":90.15,"y":97.3},
{"x":91.08,"y":97.5},{"x":91.46,"y":99.6},{"x":91.83,"y":94.7},{"x":91.27,"y":96.2},{"x":91.61,"y":91.6},{"x":91.94,"y":98.7},{"x":91.15,"y":93.3},{"x":91.52,"y":99.1},{"x":91.75,"y":96.8},{"x":91.33,"y":89.0},{"x":91.89,"y":95.2},{"x":91.04,"y":99.8},{"x":91.42,"y":97.3},{"x":91.68,"y":93.9},{"x":91.21,"y":98.4},{"x":91.57,"y":86.5},{"x":91.97,"y":96.6},{"x":91.36,"y":95.0},{"x":91.79,"y":99.4},{"x":91.12,"y":92.3},{"x":91.49,"y":98.0},{"x":91.86,"y":90.5},{"x":91.24,"y":99.5},{"x":91.65,"y":97.1},{"x":91.39,"y":94.1},{"x":91.93,"y":97.9},{"x":91.18,"y":95.5},{"x":91.55,"y":99.0},{"x":91.72,"y":84.6},{"x":91.3,"y":98.9},{"x":91.01,"y":93.7},
{"x":92.11,"y":99.2},{"x":92.47,"y":96.0},{"x":92.82,"y":98.5},{"x":92.26,"y":93.1},{"x":92.64,"y":99.8},{"x":92.05,"y":97.1},{"x":92.39,"y":91.0},{"x":92.91,"y":95.9},{"x":92.18,"y":98.8},{"x":92.56,"y":94.4},{"x":92.73,"y":99.4},{"x":92.33,"y":96.7},{"x":92.97,"y":92.2},{"x":92.08,"y":95.3},{"x":92.51,"y":99.0},{"x":92.86,"y":97.7},{"x":92.22,"y":88.1},{"x":92.61,"y":98.2},{"x":92.44,"y":94.9},{"x":92.79,"y":96.3},{"x":92.14,"y":99.6},{"x":92.69,"y":90.2},{"x":92.37,"y":97.5},{"x":92.94,"y":99.1},{"x":92.03,"y":93.9},{"x":92.58,"y":96.9},{"x":92.29,"y":98.6},{"x":92.76,"y":85.2},{"x":92.48,"y":99.3},{"x":92.88,"y":94.0},{"x":92.2,"y":97.9},
{"x":93.09,"y":98.1},{"x":93.44,"y":99.5},{"x":93.78,"y":95.4},{"x":93.21,"y":96.9},{"x":93.62,"y":93.2},{"x":93.93,"y":99.0},{"x":93.15,"y":94.6},{"x":93.5,"y":97.8},{"x":93.86,"y":99.7},{"x":93.31,"y":91.4},{"x":93.69,"y":98.4},{"x":93.02,"y":99.3},{"x":93.4,"y":96.2},{"x":93.74,"y":89.0},{"x":93.26,"y":99.9},{"x":93.57,"y":95.0},{"x":93.97,"y":97.3},{"x":93.12,"y":92.7},{"x":93.47,"y":99.1},{"x":93.82,"y":96.6},{"x":93.35,"y":98.7},{"x":93.66,"y":94.2},{"x":93.05,"y":96.0},{"x":93.53,"y":86.9},{"x":93.89,"y":98.0},{"x":93.19,"y":99.6},{"x":93.71,"y":97.0},{"x":93.42,"y":93.6},{"x":93.95,"y":95.7},{"x":93.28,"y":82.8},
{"x":94.14,"y":99.3},{"x":94.51,"y":96.4},{"x":94.87,"y":98.9},{"x":94.29,"y":94.0},{"x":94.66,"y":99.7},{"x":94.04,"y":97.5},{"x":94.42,"y":92.1},{"x":94.93,"y":99.0},{"x":94.22,"y":96.0},{"x":94.59,"y":98.2},{"x":94.76,"y":94.8},{"x":94.35,"y":99.6},{"x":94.98,"y":97.0},{"x":94.09,"y":95.1},{"x":94.47,"y":99.1},{"x":94.83,"y":90.3},{"x":94.25,"y":98.5},{"x":94.63,"y":96.8},{"x":94.39,"y":99.8},{"x":94.71,"y":93.3},{"x":94.17,"y":97.9},{"x":94.55,"y":88.2},{"x":94.9,"y":98.6},{"x":94.31,"y":96.5},{"x":94.68,"y":99.4},{"x":94.02,"y":93.8},{"x":94.45,"y":97.2},{"x":94.8,"y":95.5},{"x":94.12,"y":98.8},
{"x":95.07,"y":98.0},{"x":95.43,"y":99.6},{"x":95.79,"y":96.7},{"x":95.22,"y":97.4},{"x":95.58,"y":93.6},{"x":95.91,"y":99.2},{"x":95.16,"y":95.4},{"x":95.52,"y":98.9},{"x":95.85,"y":97.9},{"x":95.3,"y":99.8},{"x":95.66,"y":92.0},{"x":95.01,"y":96.3},{"x":95.38,"y":98.4},{"x":95.74,"y":95.0},{"x":95.97,"y":99.4},{"x":95.12,"y":97.0},{"x":95.47,"y":90.5},{"x":95.82,"y":98.6},{"x":95.27,"y":94.3},{"x":95.62,"y":99.0},{"x":95.04,"y":99.7},{"x":95.34,"y":96.0},{"x":95.7,"y":97.6},{"x":95.94,"y":93.1},{"x":95.19,"y":98.2},{"x":95.55,"y":87.4},{"x":95.88,"y":96.5},
{"x":96.13,"y":99.1},{"x":96.48,"y":97.3},{"x":96.81,"y":98.7},{"x":96.26,"y":95.2},{"x":96.62,"y":99.6},{"x":96.05,"y":96.9},{"x":96.37,"y":93.0},{"x":96.94,"y":98.3},{"x":96.19,"y":99.8},{"x":96.55,"y":96.1},{"x":96.73,"y":91.4},{"x":96.31,"y":98.0},{"x":96.88,"y":97.0},{"x":96.09,"y":94.7},{"x":96.44,"y":99.4},{"x":96.67,"y":95.8},{"x":96.98,"y":99.0},{"x":96.22,"y":97.6},{"x":96.59,"y":89.2},{"x":96.85,"y":98.9},{"x":96.34,"y":96.4},{"x":96.76,"y":99.3},{"x":96.02,"y":98.5},{"x":96.5,"y":94.1},{"x":96.91,"y":96.0},
{"x":97.11,"y":98.6},{"x":97.46,"y":99.5},{"x":97.83,"y":97.1},{"x":97.24,"y":96.0},{"x":97.6,"y":99.1},{"x":97.95,"y":98.0},{"x":97.17,"y":94.2},{"x":97.52,"y":97.8},{"x":97.88,"y":99.7},{"x":97.33,"y":92.5},{"x":97.69,"y":98.3},{"x":97.04,"y":99.3},{"x":97.41,"y":96.6},{"x":97.77,"y":95.0},{"x":97.28,"y":99.9},{"x":97.57,"y":97.4},{"x":97.92,"y":93.6},{"x":97.14,"y":98.9},{"x":97.49,"y":90.3},{"x":97.8,"y":96.7},{"x":97.36,"y":98.1},{"x":97.65,"y":99.4},{"x":97.07,"y":96.3},{"x":97.6,"y":89.8},
{"x":98.09,"y":99.0},{"x":98.45,"y":97.6},{"x":98.81,"y":99.6},{"x":98.23,"y":95.9},{"x":98.58,"y":98.4},{"x":98.92,"y":96.8},{"x":98.15,"y":99.3},{"x":98.52,"y":94.1},{"x":98.87,"y":98.1},{"x":98.3,"y":99.8},{"x":98.65,"y":96.5},{"x":98.02,"y":97.9},{"x":98.38,"y":92.6},{"x":98.74,"y":99.2},{"x":98.97,"y":97.3},{"x":98.19,"y":96.2},{"x":98.56,"y":99.5},{"x":98.84,"y":94.9},{"x":98.27,"y":98.7},{"x":98.61,"y":91.0},{"x":98.43,"y":98.9},{"x":98.9,"y":95.5},
{"x":99.12,"y":98.8},{"x":99.46,"y":99.7},{"x":99.79,"y":97.2},{"x":99.24,"y":96.4},{"x":99.6,"y":99.2},{"x":99.93,"y":98.2},{"x":99.17,"y":94.6},{"x":99.53,"y":97.9},{"x":99.85,"y":99.5},{"x":99.31,"y":95.3},{"x":99.68,"y":98.5},{"x":99.05,"y":99.9},{"x":99.4,"y":93.0},{"x":99.74,"y":96.9},{"x":99.97,"y":99.0},{"x":99.2,"y":97.5},{"x":99.57,"y":91.8},{"x":99.88,"y":95.8},{"x":99.35,"y":99.4},{"x":99.64,"y":97.0},{"x":99.02,"y":98.0},{"x":99.48,"y":89.4},{"x":99.82,"y":93.9},
{"x":48.33,"y":57.1},{"x":48.76,"y":46.5},{"x":48.12,"y":67.0},{"x":48.58,"y":50.3},{"x":48.91,"y":62.2},{"x":48.47,"y":43.4},
{"x":49.38,"y":62.0},{"x":49.72,"y":44.2},{"x":49.14,"y":55.4},{"x":49.86,"y":67.6},{"x":49.53,"y":49.0},{"x":49.27,"y":58.9},
{"x":50.23,"y":65.1},{"x":50.68,"y":52.1},{"x":50.44,"y":45.0},{"x":50.91,"y":58.3},{"x":50.12,"y":69.6},{"x":50.57,"y":62.8},
{"x":51.24,"y":60.0},{"x":51.67,"y":68.1},{"x":51.43,"y":44.0},{"x":51.88,"y":53.0},{"x":51.16,"y":49.8},{"x":51.59,"y":64.4},
{"x":52.31,"y":58.7},{"x":52.78,"y":47.4},{"x":52.09,"y":71.2},{"x":52.63,"y":54.1},{"x":52.42,"y":67.8},{"x":52.94,"y":61.2},
{"x":53.36,"y":72.5},{"x":53.81,"y":50.4},{"x":53.12,"y":62.3},{"x":53.57,"y":56.8},{"x":53.93,"y":69.4},{"x":53.28,"y":46.5},
{"x":54.41,"y":61.3},{"x":54.86,"y":55.1},{"x":54.17,"y":73.0},{"x":54.64,"y":48.2},{"x":54.29,"y":66.3},{"x":54.95,"y":52.6},
{"x":55.36,"y":69.1},{"x":55.77,"y":52.5},{"x":55.13,"y":63.6},{"x":55.58,"y":47.8},{"x":55.92,"y":71.3},{"x":55.44,"y":58.1},{"x":55.21,"y":73.9},{"x":55.69,"y":65.2},{"x":55.05,"y":55.7},{"x":55.83,"y":50.6},
{"x":56.27,"y":66.9},{"x":56.73,"y":57.2},{"x":56.48,"y":71.9},{"x":56.09,"y":49.9},{"x":56.91,"y":63.8},{"x":56.36,"y":53.4},{"x":56.62,"y":75.0},{"x":56.16,"y":60.3},{"x":56.84,"y":68.7},{"x":56.54,"y":47.2},
{"x":57.22,"y":73.5},{"x":57.68,"y":54.8},{"x":57.47,"y":66.8},{"x":57.03,"y":59.7},{"x":57.89,"y":51.1},{"x":57.34,"y":76.3},{"x":57.59,"y":62.9},{"x":57.13,"y":48.3},{"x":57.77,"y":70.1},{"x":57.41,"y":57.0},
{"x":58.19,"y":68.4},{"x":58.64,"y":56.1},{"x":58.43,"y":75.2},{"x":58.08,"y":52.4},{"x":58.87,"y":65.6},{"x":58.32,"y":60.7},{"x":58.56,"y":71.6},{"x":58.97,"y":50.5},{"x":58.26,"y":77.9},{"x":58.74,"y":62.3},
{"x":59.34,"y":70.0},{"x":59.78,"y":61.6},{"x":59.12,"y":76.7},{"x":59.57,"y":52.0},{"x":59.91,"y":73.2},{"x":59.46,"y":58.3},{"x":59.23,"y":65.9},{"x":59.69,"y":78.3},{"x":59.02,"y":55.4},{"x":59.84,"y":68.8},
{"x":60.27,"y":72.2},{"x":60.73,"y":59.1},{"x":60.14,"y":78.5},{"x":60.58,"y":63.6},{"x":60.91,"y":54.4},{"x":60.42,"y":70.5},{"x":60.06,"y":66.3},{"x":60.81,"y":75.8},{"x":60.35,"y":51.7},{"x":60.65,"y":68.0},
{"x":61.37,"y":71.4},{"x":61.84,"y":61.9},{"x":61.11,"y":79.8},{"x":61.56,"y":58.5},{"x":61.93,"y":74.9},{"x":61.25,"y":54.3},{"x":61.69,"y":67.7},{"x":61.03,"y":73.0},{"x":61.48,"y":77.5},{"x":61.77,"y":63.6},
{"x":62.33,"y":74.6},{"x":62.79,"y":62.7},{"x":62.14,"y":58.9},{"x":62.58,"y":80.9},{"x":62.91,"y":69.8},{"x":62.44,"y":55.5},{"x":62.07,"y":77.3},{"x":62.68,"y":65.9},{"x":62.25,"y":71.0},{"x":62.86,"y":59.6},
{"x":63.41,"y":77.0},{"x":63.86,"y":64.5},{"x":63.17,"y":71.6},{"x":63.62,"y":59.1},{"x":63.95,"y":75.2},{"x":63.28,"y":56.7},{"x":63.73,"y":81.3},{"x":63.06,"y":68.8},{"x":63.52,"y":62.6},{"x":63.89,"y":79.1},
{"x":64.34,"y":80.5},{"x":64.78,"y":67.1},{"x":64.11,"y":74.9},{"x":64.57,"y":60.2},{"x":64.92,"y":72.7},{"x":64.45,"y":57.9},{"x":64.21,"y":78.0},{"x":64.69,"y":65.6},{"x":64.03,"y":82.7},{"x":64.84,"y":70.3},
{"x":65.29,"y":76.9},{"x":65.74,"y":61.5},{"x":65.13,"y":81.7},{"x":65.58,"y":67.4},{"x":65.96,"y":74.3},{"x":65.41,"y":58.8},{"x":65.07,"y":72.0},{"x":65.65,"y":83.9},{"x":65.22,"y":65.0},{"x":65.87,"y":78.6},{"x":65.49,"y":69.9},{"x":65.34,"y":60.9},{"x":65.81,"y":57.4},{"x":65.18,"y":79.7},
{"x":66.26,"y":74.2},{"x":66.71,"y":82.5},{"x":66.09,"y":63.9},{"x":66.52,"y":77.3},{"x":66.94,"y":68.6},{"x":66.37,"y":59.0},{"x":66.63,"y":71.7},{"x":66.15,"y":80.0},{"x":66.81,"y":62.1},{"x":66.44,"y":85.0},{"x":66.02,"y":76.0},{"x":66.58,"y":66.9},{"x":66.89,"y":73.2},{"x":66.31,"y":69.4},
{"x":67.35,"y":77.1},{"x":67.78,"y":64.9},{"x":67.14,"y":81.6},{"x":67.56,"y":70.7},{"x":67.91,"y":60.0},{"x":67.27,"y":86.3},{"x":67.63,"y":75.4},{"x":67.05,"y":67.0},{"x":67.47,"y":79.9},{"x":67.84,"y":72.0},{"x":67.21,"y":62.4},{"x":67.72,"y":83.7},{"x":67.4,"y":73.6},{"x":67.98,"y":58.9},
{"x":68.29,"y":78.5},{"x":68.74,"y":69.2},{"x":68.11,"y":83.6},{"x":68.53,"y":63.8},{"x":68.96,"y":73.7},{"x":68.38,"y":87.1},{"x":68.66,"y":66.4},{"x":68.05,"y":76.9},{"x":68.47,"y":81.1},{"x":68.85,"y":60.7},{"x":68.22,"y":71.6},{"x":68.61,"y":85.4},{"x":68.91,"y":78.0},{"x":68.34,"y":65.0},
{"x":69.36,"y":81.8},{"x":69.81,"y":69.7},{"x":69.13,"y":76.6},{"x":69.55,"y":62.2},{"x":69.94,"y":85.1},{"x":69.28,"y":73.0},{"x":69.67,"y":88.0},{"x":69.06,"y":66.7},{"x":69.48,"y":79.4},{"x":69.88,"y":74.8},{"x":69.19,"y":84.0},{"x":69.62,"y":61.8},{"x":69.42,"y":70.9},{"x":69.75,"y":82.9},
{"x":70.24,"y":78.0},{"x":70.69,"y":71.4},{"x":70.08,"y":84.4},{"x":70.52,"y":65.0},{"x":70.93,"y":82.1},{"x":70.37,"y":88.5},{"x":70.61,"y":73.8},{"x":70.14,"y":69.1},{"x":70.86,"y":77.3},{"x":70.45,"y":85.7},{"x":70.02,"y":80.6},{"x":70.77,"y":64.0},{"x":70.31,"y":74.9},{"x":70.58,"y":90.0},
{"x":71.33,"y":80.1},{"x":71.78,"y":72.7},{"x":71.12,"y":88.0},{"x":71.57,"y":66.9},{"x":71.91,"y":84.8},{"x":71.26,"y":75.1},{"x":71.65,"y":91.0},{"x":71.05,"y":70.0},{"x":71.48,"y":82.9},{"x":71.86,"y":78.4},{"x":71.19,"y":64.6},{"x":71.72,"y":86.2},{"x":71.4,"y":69.2},{"x":71.97,"y":81.5},
{"x":72.29,"y":84.1},{"x":72.73,"y":76.0},{"x":72.11,"y":91.4},{"x":72.55,"y":70.2},{"x":72.94,"y":81.3},{"x":72.38,"y":88.0},{"x":72.64,"y":66.8},{"x":72.07,"y":74.4},{"x":72.46,"y":79.0},{"x":72.85,"y":89.7},{"x":72.2,"y":68.1},{"x":72.69,"y":83.0},{"x":72.35,"y":77.7},{"x":72.91,"y":72.3},
{"x":73.34,"y":83.9},{"x":73.77,"y":71.5},{"x":73.16,"y":87.8},{"x":73.58,"y":77.0},{"x":73.93,"y":91.9},{"x":73.25,"y":67.7},{"x":73.63,"y":81.1},{"x":73.04,"y":75.6},{"x":73.49,"y":89.4},{"x":73.87,"y":84.5},{"x":73.21,"y":79.1},{"x":73.71,"y":70.5},{"x":73.42,"y":93.0},{"x":73.98,"y":86.7},
{"x":74.27,"y":85.1},{"x":74.74,"y":78.9},{"x":74.08,"y":92.8},{"x":74.55,"y":73.2},{"x":74.92,"y":87.9},{"x":74.36,"y":69.8},{"x":74.63,"y":83.6},{"x":74.14,"y":76.2},{"x":74.48,"y":90.4},{"x":74.86,"y":81.5},{"x":74.22,"y":66.0},{"x":74.69,"y":94.0},{"x":74.41,"y":80.0},{"x":74.97,"y":72.6},
{"x":75.36,"y":91.2},{"x":75.79,"y":81.0},{"x":75.12,"y":86.0},{"x":75.55,"y":76.6},{"x":75.94,"y":93.7},{"x":75.27,"y":72.8},{"x":75.68,"y":88.7},{"x":75.05,"y":79.0},{"x":75.46,"y":83.4},{"x":75.84,"y":70.2},{"x":75.21,"y":95.1},{"x":75.61,"y":84.9},{"x":75.39,"y":67.9},{"x":75.9,"y":78.1},
{"x":76.28,"y":85.3},{"x":76.74,"y":92.7},{"x":76.09,"y":77.8},{"x":76.53,"y":88.1},{"x":76.95,"y":80.3},{"x":76.41,"y":95.8},{"x":76.66,"y":73.9},{"x":76.13,"y":90.5},{"x":76.49,"y":82.9},{"x":76.87,"y":86.9},{"x":76.22,"y":69.8},{"x":76.58,"y":79.3},{"x":76.33,"y":93.9},{"x":76.8,"y":75.8},
{"x":77.3,"y":88.3},{"x":77.74,"y":80.5},{"x":77.15,"y":94.5},{"x":77.57,"y":75.0},{"x":77.93,"y":91.7},{"x":77.23,"y":84.0},{"x":77.64,"y":96.8},{"x":77.06,"y":71.3},{"x":77.49,"y":86.2},{"x":77.87,"y":78.0},{"x":77.19,"y":90.2},{"x":77.71,"y":82.8},{"x":77.41,"y":97.5},{"x":77.96,"y":73.9},
{"x":78.29,"y":93.5},{"x":78.72,"y":84.4},{"x":78.12,"y":89.6},{"x":78.55,"y":78.0},{"x":78.93,"y":96.9},{"x":78.37,"y":71.9},{"x":78.64,"y":91.7},{"x":78.07,"y":82.0},{"x":78.46,"y":87.1},{"x":78.85,"y":98.6},{"x":78.2,"y":75.4},{"x":78.68,"y":86.0},{"x":78.41,"y":94.6},{"x":78.97,"y":79.7},
{"x":79.33,"y":94.4},{"x":79.76,"y":85.3},{"x":79.14,"y":88.9},{"x":79.55,"y":97.3},{"x":79.92,"y":81.8},{"x":79.26,"y":76.9},{"x":79.63,"y":91.9},{"x":79.04,"y":86.0},{"x":79.47,"y":99.3},{"x":79.85,"y":89.8},{"x":79.2,"y":83.1},{"x":79.7,"y":74.0},{"x":79.39,"y":95.5},{"x":79.95,"y":93.4},
{"x":80.28,"y":91.0},{"x":80.73,"y":96.9},{"x":80.11,"y":86.3},{"x":80.56,"y":99.6},{"x":80.94,"y":84.4},{"x":80.37,"y":93.5},{"x":80.63,"y":79.1},{"x":80.07,"y":95.7},{"x":80.48,"y":88.0},{"x":80.87,"y":97.4},{"x":80.19,"y":83.1},{"x":80.68,"y":90.6},{"x":80.43,"y":98.0},{"x":80.91,"y":76.0},{"x":80.25,"y":92.2},{"x":80.6,"y":94.9},{"x":80.02,"y":88.6},{"x":80.81,"y":99.0},
{"x":81.24,"y":89.8},{"x":81.69,"y":97.1},{"x":81.08,"y":93.0},{"x":81.52,"y":82.3},{"x":81.95,"y":95.4},{"x":81.37,"y":99.8},{"x":81.61,"y":87.2},{"x":81.13,"y":78.6},{"x":81.44,"y":94.0},{"x":81.86,"y":90.7},{"x":81.21,"y":98.3},{"x":81.76,"y":85.0},{"x":81.33,"y":96.4},{"x":81.58,"y":92.1},{"x":81.04,"y":84.5},{"x":81.9,"y":99.0},{"x":81.48,"y":88.4},{"x":81.66,"y":77.0},
{"x":82.27,"y":90.1},{"x":82.72,"y":96.6},{"x":82.1,"y":99.2},{"x":82.54,"y":87.8},{"x":82.93,"y":94.0},{"x":82.38,"y":82.7},{"x":82.66,"y":98.4},{"x":82.05,"y":92.0},{"x":82.47,"y":97.0},{"x":82.88,"y":89.3},{"x":82.16,"y":80.8},{"x":82.61,"y":95.6},{"x":82.35,"y":99.7},{"x":82.79,"y":91.9},{"x":82.22,"y":86.4},{"x":82.97,"y":93.5},{"x":82.44,"y":84.1},{"x":82.58,"y":99.95},
{"x":83.33,"y":91.2},{"x":83.78,"y":97.3},{"x":83.13,"y":99.0},{"x":83.55,"y":88.1},{"x":83.94,"y":94.6},{"x":83.41,"y":85.2},{"x":83.67,"y":99.9},{"x":83.07,"y":93.5},{"x":83.48,"y":96.5},{"x":83.86,"y":90.0},{"x":83.2,"y":81.3},{"x":83.72,"y":98.8},{"x":83.39,"y":95.1},{"x":83.83,"y":87.0},{"x":83.25,"y":97.8},{"x":83.6,"y":92.4},{"x":83.03,"y":89.5},{"x":83.91,"y":83.9},
{"x":84.31,"y":94.1},{"x":84.74,"y":99.4},{"x":84.12,"y":89.2},{"x":84.58,"y":96.9},{"x":84.93,"y":91.7},{"x":84.4,"y":99.9},{"x":84.66,"y":86.4},{"x":84.05,"y":97.6},{"x":84.49,"y":93.5},{"x":84.87,"y":98.5},{"x":84.18,"y":84.0},{"x":84.71,"y":95.9},{"x":84.35,"y":90.6},{"x":84.81,"y":97.2},{"x":84.23,"y":99.1},{"x":84.62,"y":88.0},{"x":84.09,"y":95.2},{"x":84.96,"y":92.3},
{"x":85.28,"y":98.0},{"x":85.7,"y":94.5},{"x":85.13,"y":99.3},{"x":85.51,"y":91.4},{"x":85.93,"y":97.2},{"x":85.37,"y":88.1},{"x":85.64,"y":99.6},{"x":85.06,"y":96.0},{"x":85.45,"y":93.0},{"x":85.87,"y":99.0},{"x":85.19,"y":86.2},{"x":85.6,"y":97.0},{"x":85.33,"y":94.8},{"x":85.78,"y":90.6},{"x":85.24,"y":99.9},{"x":85.57,"y":95.5},{"x":85.03,"y":92.7},{"x":85.9,"y":83.5},
{"x":86.29,"y":95.7},{"x":86.71,"y":98.9},{"x":86.12,"y":92.9},{"x":86.56,"y":99.6},{"x":86.94,"y":90.5},{"x":86.37,"y":97.4},{"x":86.64,"y":94.3},{"x":86.07,"y":99.2},{"x":86.45,"y":88.6},{"x":86.85,"y":96.9},{"x":86.18,"y":98.0},{"x":86.69,"y":93.6},{"x":86.33,"y":99.9},{"x":86.78,"y":91.3},{"x":86.23,"y":96.3},{"x":86.6,"y":86.7},{"x":86.02,"y":94.1},{"x":86.91,"y":98.6},
{"x":87.28,"y":97.6},{"x":87.73,"y":99.3},{"x":87.1,"y":94.8},{"x":87.55,"y":98.4},{"x":87.92,"y":92.6},{"x":87.37,"y":99.8},{"x":87.63,"y":96.0},{"x":87.04,"y":91.0},{"x":87.44,"y":97.9},{"x":87.85,"y":95.1},{"x":87.19,"y":99.1},{"x":87.69,"y":88.4},{"x":87.33,"y":93.4},{"x":87.79,"y":98.9},{"x":87.22,"y":96.7},{"x":87.58,"y":99.5},{"x":87.01,"y":97.3},{"x":87.97,"y":94.2},
{"x":88.31,"y":98.4},{"x":88.76,"y":95.0},{"x":88.14,"y":99.6},{"x":88.57,"y":97.0},{"x":88.95,"y":99.2},{"x":88.39,"y":93.9},{"x":88.66,"y":98.6},{"x":88.06,"y":97.5},{"x":88.48,"y":99.9},{"x":88.86,"y":92.6},{"x":88.2,"y":96.3},{"x":88.71,"y":99.0},{"x":88.35,"y":95.4},{"x":88.81,"y":97.9},{"x":88.25,"y":99.4},{"x":88.6,"y":94.5},{"x":88.03,"y":91.8},{"x":88.92,"y":98.2},
{"x":89.33,"y":98.1},{"x":89.77,"y":95.3},{"x":89.12,"y":99.7},{"x":89.54,"y":97.6},{"x":89.96,"y":99.1},{"x":89.41,"y":93.2},{"x":89.67,"y":98.8},{"x":89.05,"y":96.4},{"x":89.46,"y":99.5},{"x":89.86,"y":94.0},{"x":89.21,"y":97.2},{"x":89.72,"y":99.9},{"x":89.35,"y":95.8},{"x":89.8,"y":98.4},{"x":89.24,"y":91.6},{"x":89.63,"y":96.8},{"x":89.02,"y":98.9},{"x":89.93,"y":97.0},
{"x":90.32,"y":99.5},{"x":90.71,"y":96.3},{"x":90.11,"y":98.7},{"x":90.55,"y":94.4},{"x":90.94,"y":99.8},{"x":90.39,"y":97.4},{"x":90.66,"y":98.3},{"x":90.07,"y":93.5},{"x":90.48,"y":99.3},{"x":90.86,"y":97.1},{"x":90.2,"y":95.0},{"x":90.75,"y":99.0},{"x":90.36,"y":98.1},{"x":90.82,"y":95.7},{"x":90.24,"y":99.9},{"x":90.59,"y":91.8},{"x":90.04,"y":97.9},{"x":90.91,"y":98.6},{"x":90.44,"y":96.8},{"x":90.17,"y":94.0},
{"x":91.34,"y":99.3},{"x":91.76,"y":97.8},{"x":91.14,"y":96.0},{"x":91.56,"y":99.7},{"x":91.93,"y":98.3},{"x":91.42,"y":94.5},{"x":91.66,"y":99.1},{"x":91.06,"y":98.6},{"x":91.47,"y":96.9},{"x":91.87,"y":99.5},{"x":91.25,"y":93.0},{"x":91.71,"y":97.5},{"x":91.37,"y":99.9},{"x":91.82,"y":95.6},{"x":91.2,"y":98.1},{"x":91.59,"y":99.4},{"x":91.03,"y":95.3},{"x":91.96,"y":92.1},{"x":91.5,"y":97.7},{"x":91.28,"y":99.0},
{"x":92.32,"y":98.0},{"x":92.77,"y":99.6},{"x":92.13,"y":96.5},{"x":92.55,"y":99.1},{"x":92.94,"y":97.4},{"x":92.41,"y":99.9},{"x":92.65,"y":95.1},{"x":92.06,"y":99.3},{"x":92.46,"y":98.5},{"x":92.86,"y":93.8},{"x":92.22,"y":99.7},{"x":92.71,"y":97.0},{"x":92.36,"y":95.8},{"x":92.82,"y":99.0},{"x":92.27,"y":97.7},{"x":92.6,"y":92.9},{"x":92.02,"y":98.9},{"x":92.97,"y":96.1},{"x":92.5,"y":99.5},{"x":92.17,"y":94.7},
{"x":93.31,"y":99.2},{"x":93.76,"y":96.8},{"x":93.13,"y":99.8},{"x":93.58,"y":98.3},{"x":93.93,"y":97.1},{"x":93.4,"y":99.5},{"x":93.67,"y":95.5},{"x":93.04,"y":98.6},{"x":93.48,"y":99.9},{"x":93.86,"y":94.1},{"x":93.22,"y":97.6},{"x":93.72,"y":99.3},{"x":93.37,"y":96.4},{"x":93.81,"y":98.9},{"x":93.26,"y":95.0},{"x":93.62,"y":99.0},{"x":93.08,"y":97.4},{"x":93.98,"y":91.6},{"x":93.54,"y":98.0},{"x":93.17,"y":99.6},
{"x":94.33,"y":98.1},{"x":94.74,"y":99.5},{"x":94.15,"y":96.9},{"x":94.57,"y":99.0},{"x":94.95,"y":97.7},{"x":94.41,"y":99.9},{"x":94.65,"y":95.4},{"x":94.06,"y":98.4},{"x":94.49,"y":97.0},{"x":94.87,"y":99.3},{"x":94.23,"y":94.6},{"x":94.7,"y":98.7},{"x":94.36,"y":99.6},{"x":94.81,"y":96.2},{"x":94.28,"y":92.9},{"x":94.61,"y":99.2},{"x":94.03,"y":99.8},{"x":94.92,"y":97.4},{"x":94.53,"y":93.5},{"x":94.19,"y":98.0},
{"x":95.29,"y":98.6},{"x":95.75,"y":99.4},{"x":95.11,"y":97.3},{"x":95.56,"y":99.9},{"x":95.92,"y":98.1},{"x":95.41,"y":96.1},{"x":95.65,"y":99.5},{"x":95.06,"y":95.2},{"x":95.47,"y":98.8},{"x":95.86,"y":97.0},{"x":95.2,"y":99.1},{"x":95.71,"y":94.7},{"x":95.36,"y":99.6},{"x":95.81,"y":92.6},{"x":95.25,"y":96.8},{"x":95.6,"y":98.3},{"x":95.03,"y":99.3},{"x":95.96,"y":97.7},{"x":95.51,"y":95.9},{"x":95.15,"y":91.3},
{"x":96.33,"y":99.0},{"x":96.71,"y":98.0},{"x":96.14,"y":97.1},{"x":96.58,"y":99.7},{"x":96.94,"y":96.2},{"x":96.41,"y":98.5},{"x":96.66,"y":99.2},{"x":96.06,"y":95.5},{"x":96.47,"y":99.8},{"x":96.86,"y":97.7},{"x":96.21,"y":93.7},{"x":96.75,"y":99.4},{"x":96.37,"y":96.9},{"x":96.8,"y":98.2},{"x":96.25,"y":99.5},{"x":96.62,"y":94.5},{"x":96.03,"y":98.8},{"x":96.97,"y":97.4},{"x":96.53,"y":92.3},{"x":96.17,"y":99.9},
{"x":97.31,"y":98.3},{"x":97.74,"y":99.8},{"x":97.13,"y":97.5},{"x":97.55,"y":99.0},{"x":97.93,"y":96.5},{"x":97.42,"y":99.4},{"x":97.66,"y":97.9},{"x":97.05,"y":95.7},{"x":97.48,"y":98.6},{"x":97.86,"y":99.2},{"x":97.21,"y":93.4},{"x":97.71,"y":97.2},{"x":97.37,"y":99.7},{"x":97.81,"y":94.8},{"x":97.26,"y":98.0},{"x":97.63,"y":91.9},{"x":97.02,"y":99.5},{"x":97.97,"y":98.4},{"x":97.52,"y":96.2},{"x":97.18,"y":99.1},
{"x":98.33,"y":98.5},{"x":98.77,"y":99.3},{"x":98.12,"y":97.0},{"x":98.55,"y":99.9},{"x":98.94,"y":98.3},{"x":98.41,"y":96.3},{"x":98.67,"y":99.0},{"x":98.05,"y":98.8},{"x":98.48,"y":95.4},{"x":98.86,"y":97.6},{"x":98.21,"y":99.5},{"x":98.7,"y":93.3},{"x":98.36,"y":97.8},{"x":98.82,"y":99.1},{"x":98.26,"y":94.5},{"x":98.62,"y":98.0},{"x":98.03,"y":96.9},{"x":98.97,"y":99.7},{"x":98.5,"y":90.8},{"x":98.17,"y":97.3},
{"x":99.33,"y":98.4},{"x":99.76,"y":99.1},{"x":99.14,"y":97.8},{"x":99.55,"y":99.6},{"x":99.93,"y":96.6},{"x":99.41,"y":98.9},{"x":99.67,"y":95.9},{"x":99.06,"y":99.4},{"x":99.48,"y":97.3},{"x":99.86,"y":98.0},{"x":99.21,"y":94.0},{"x":99.71,"y":99.9},{"x":99.37,"y":96.0},{"x":99.81,"y":92.8},{"x":99.26,"y":99.0},{"x":99.62,"y":97.6},{"x":99.02,"y":95.1},{"x":99.97,"y":97.9},{"x":99.51,"y":99.3},{"x":99.17,"y":91.0}
]
},
"layer":[
{"data":{"name":"fit"},
 "mark":{"type":"area","color":"#ffcccc","opacity":1,"clip":true,"interpolate":"monotone"},
 "encoding":{
  "x":{"field":"x","type":"quantitative","scale":{"domain":[20,100],"nice":false,"zero":false},
   "axis":{"orient":"bottom","values":[20,30,40,50,60,70,80,90,100],"ticks":false,"domain":false,"grid":true,"gridColor":"#000000","gridDash":[1,4],"gridWidth":1,"gridOpacity":1,"labels":true,"labelFont":"Liberation Sans","labelFontSize":19.5,"labelFontWeight":"bold","labelColor":"#000000","labelPadding":8,"labelFlush":false,"labelOverlap":false,"labelBound":false,"title":"RH [%] climatological station Tuřany","titleFont":"Liberation Sans","titleFontSize":19.8,"titleFontWeight":"bold","titleColor":"#000000","titleY":43,"titleBaseline":"alphabetic","zindex":1}},
  "y":{"field":"piLo","type":"quantitative","scale":{"domain":[20,100],"nice":false,"zero":false},
   "axis":{"orient":"left","values":[20,30,40,50,60,70,80,90,100],"ticks":false,"domain":false,"grid":true,"gridColor":"#000000","gridDash":[1,4],"gridWidth":1,"gridOpacity":1,"labels":true,"labelFont":"Liberation Sans","labelFontSize":19.5,"labelFontWeight":"bold","labelColor":"#000000","labelPadding":8,"labelFlush":false,"labelOverlap":false,"labelBound":false,"title":"RHEH wheat [%]","titleFont":"Liberation Sans","titleFontSize":19.8,"titleFontWeight":"bold","titleColor":"#000000","titleX":-47,"titleY":216.5,"titleAngle":-90,"titleBaseline":"alphabetic","titleAlign":"center","zindex":1}},
  "y2":{"field":"piHi"}}},
{"data":{"name":"fit"},
 "mark":{"type":"line","color":"#ff9c9c","strokeWidth":1,"clip":true,"interpolate":"monotone"},
 "encoding":{
  "x":{"field":"x","type":"quantitative","axis":{"orient":"bottom","values":[30,40,50,60,70,80,90],"ticks":true,"tickSize":-10,"tickColor":"#000000","tickWidth":1.5,"labels":false,"grid":false,"domain":false,"title":null,"zindex":1}},
  "y":{"field":"piHi","type":"quantitative","axis":{"orient":"left","values":[30,40,50,60,70,80,90],"ticks":true,"tickSize":-10,"tickColor":"#000000","tickWidth":1.5,"labels":false,"grid":false,"domain":false,"title":null,"zindex":1}}}},
{"data":{"name":"fit"},
 "mark":{"type":"line","color":"#ff9c9c","strokeWidth":1,"clip":true,"interpolate":"monotone"},
 "encoding":{
  "x":{"field":"x","type":"quantitative","axis":{"orient":"bottom","values":[22.5,25,27.5,32.5,35,37.5,42.5,45,47.5,52.5,55,57.5,62.5,65,67.5,72.5,75,77.5,82.5,85,87.5,92.5,95,97.5],"ticks":true,"tickSize":-5,"tickColor":"#000000","tickWidth":1.5,"labels":false,"grid":false,"domain":false,"title":null,"zindex":1}},
  "y":{"field":"piLo","type":"quantitative","axis":{"orient":"left","values":[22.5,25,27.5,32.5,35,37.5,42.5,45,47.5,52.5,55,57.5,62.5,65,67.5,72.5,75,77.5,82.5,85,87.5,92.5,95,97.5],"ticks":true,"tickSize":-5,"tickColor":"#000000","tickWidth":1.5,"labels":false,"grid":false,"domain":false,"title":null,"zindex":1}}}},
{"data":{"name":"fit"},
 "mark":{"type":"area","color":"#ff8080","opacity":1,"clip":true,"interpolate":"monotone"},
 "encoding":{
  "x":{"field":"x","type":"quantitative","axis":{"orient":"top","values":[30,40,50,60,70,80,90],"ticks":true,"tickSize":-10,"tickColor":"#000000","tickWidth":1.5,"labels":false,"grid":false,"domain":false,"title":null,"zindex":1}},
  "y":{"field":"ciLo","type":"quantitative","axis":{"orient":"right","values":[30,40,50,60,70,80,90],"ticks":true,"tickSize":-10,"tickColor":"#000000","tickWidth":1.5,"labels":false,"grid":false,"domain":false,"title":null,"zindex":1}},
  "y2":{"field":"ciHi"}}},
{"data":{"name":"fit"},
 "mark":{"type":"line","color":"#ff0000","strokeWidth":1.6,"clip":true,"interpolate":"monotone"},
 "encoding":{
  "x":{"field":"x","type":"quantitative","axis":{"orient":"top","values":[22.5,25,27.5,32.5,35,37.5,42.5,45,47.5,52.5,55,57.5,62.5,65,67.5,72.5,75,77.5,82.5,85,87.5,92.5,95,97.5],"ticks":true,"tickSize":-5,"tickColor":"#000000","tickWidth":1.5,"labels":false,"grid":false,"domain":false,"title":null,"zindex":1}},
  "y":{"field":"fit","type":"quantitative","axis":{"orient":"right","values":[22.5,25,27.5,32.5,35,37.5,42.5,45,47.5,52.5,55,57.5,62.5,65,67.5,72.5,75,77.5,82.5,85,87.5,92.5,95,97.5],"ticks":true,"tickSize":-5,"tickColor":"#000000","tickWidth":1.5,"labels":false,"grid":false,"domain":false,"title":null,"zindex":1}}}},
{"data":{"name":"pts"},
 "mark":{"type":"point","shape":"square","filled":true,"size":7.5,"color":"#0000ff","opacity":1,"clip":true},
 "encoding":{
  "x":{"field":"x","type":"quantitative","axis":null},
  "y":{"field":"y","type":"quantitative","axis":null}}}
],
"resolve":{"axis":{"x":"independent","y":"independent"}}
}
